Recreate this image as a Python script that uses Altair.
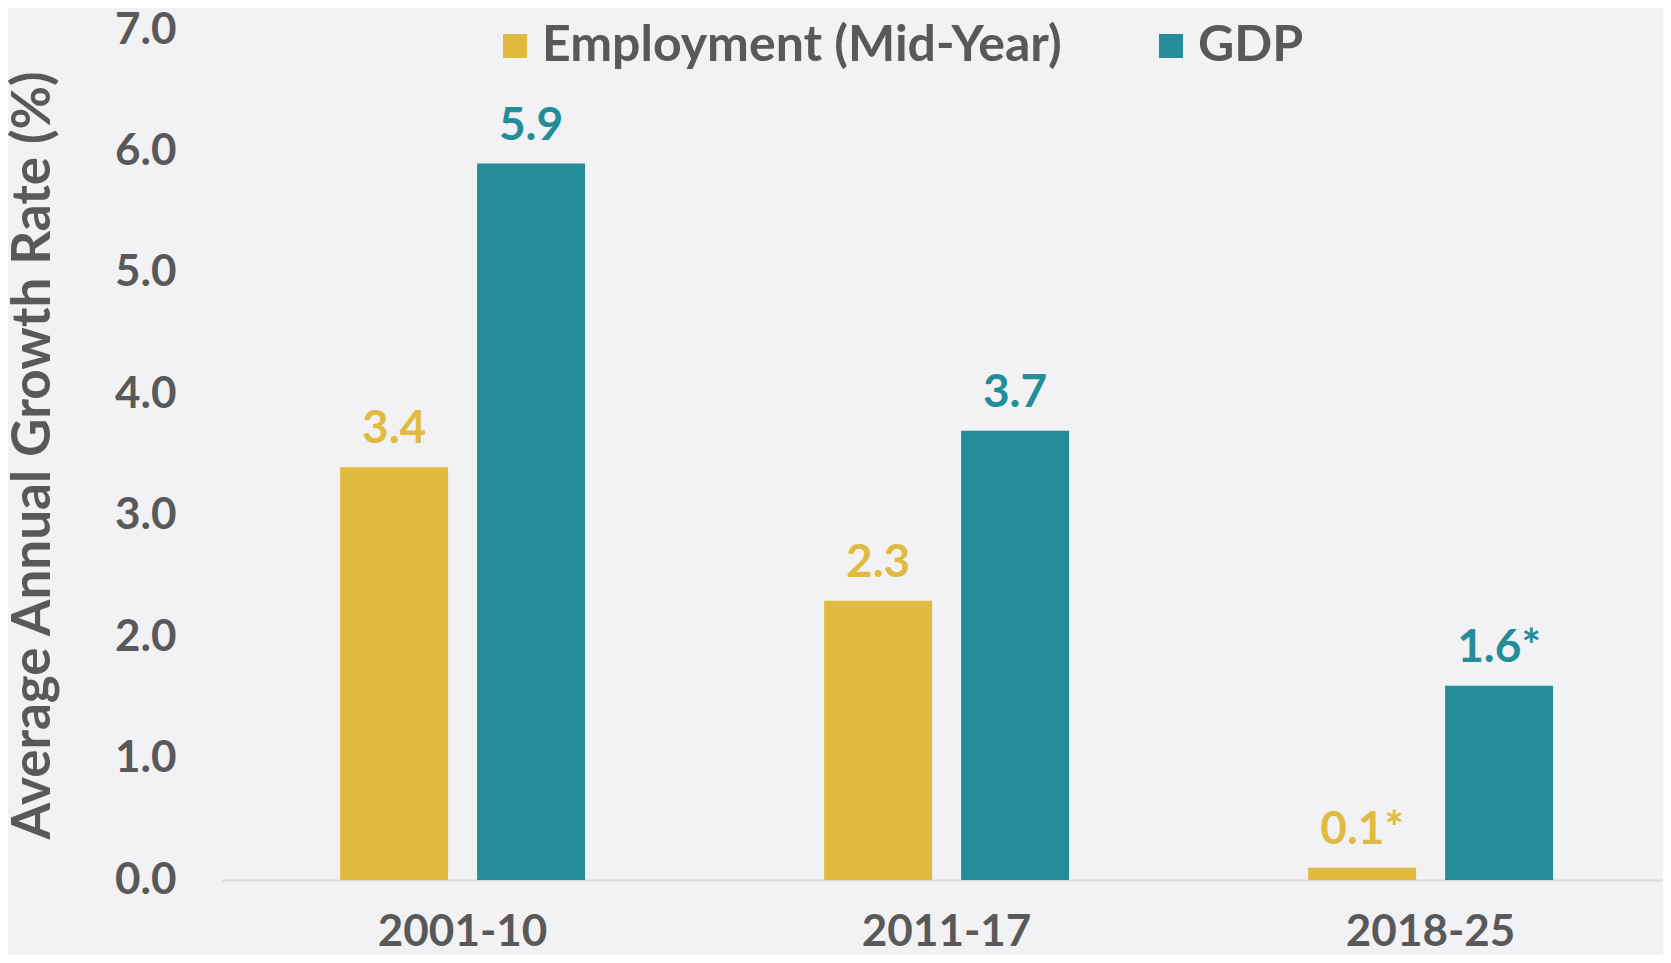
import altair as alt
import pandas as pd

periods = ["2001-10", "2011-17", "2018-25"]
series = ["Employment (Mid-Year)", "GDP"]
employment = [3.4, 2.3, 0.1]
gdp = [5.9, 3.7, 1.6]
employment_labels = ["3.4", "2.3", "0.1*"]
gdp_labels = ["5.9", "3.7", "1.6*"]
y_ticks = [0, 1, 2, 3, 4, 5, 6, 7]
colors = ["#E1BA41", "#258C9A"]

rows = []
for p, v, l in zip(periods, employment, employment_labels):
    rows.append({"period": p, "series": series[0], "value": v, "label": l})
for p, v, l in zip(periods, gdp, gdp_labels):
    rows.append({"period": p, "series": series[1], "value": v, "label": l})
df = pd.DataFrame(rows)

FONT = "Lato"
GREY = "#595959"

x = alt.X("period:N", sort=periods, title=None,
          scale=alt.Scale(paddingInner=0.494, paddingOuter=0.2356, align=0.518),
          axis=alt.Axis(labelAngle=0, labelFont=FONT, labelFontSize=44, labelFontWeight="bold",
                        labelColor=GREY, ticks=False, domain=True, domainColor="#D9D9D9",
                        domainWidth=2, labelPadding=30, labelLimit=600))
xo = alt.XOffset("series:N", sort=series,
                 scale=alt.Scale(paddingInner=0.2117, paddingOuter=0))
y = alt.Y("value:Q", title="Average Annual Growth Rate (%)",
          scale=alt.Scale(domain=[0, 7], nice=False),
          axis=alt.Axis(values=y_ticks, format=".1f", grid=False, ticks=False, domain=False,
                        labelFont=FONT, labelFontSize=44, labelFontWeight="bold", labelColor=GREY,
                        labelPadding=46, titleFont=FONT, titleFontSize=53, titleFontWeight="bold",
                        titleColor=GREY, titlePadding=54, titleLimit=1200))
color = alt.Color("series:N", sort=series,
                  scale=alt.Scale(domain=series, range=colors),
                  legend=alt.Legend(title=None, orient="none", legendX=268, legendY=-9,
                                    direction="horizontal", symbolType="square", symbolSize=576,
                                    symbolStrokeWidth=0, labelFont=FONT, labelFontSize=50,
                                    labelFontWeight="bold", labelColor=GREY, labelOffset=2,
                                    labelLimit=1000, columnPadding=84, padding=0))

bars = alt.Chart(df).mark_bar(opacity=1).encode(x=x, xOffset=xo, y=y, color=color)
text = alt.Chart(df).mark_text(font=FONT, fontSize=46, fontWeight="bold", baseline="alphabetic",
                               dy=-24).encode(
    x=x, xOffset=xo, y=y, text="label:N",
    color=alt.Color("series:N", sort=series, scale=alt.Scale(domain=series, range=colors), legend=None))

chart = (bars + text).properties(
    width=1441, height=850,
    autosize=alt.AutoSizeParams(type="none"),
    padding={"left": 214, "top": 22, "right": 0, "bottom": 75},
    background="#F2F2F4",
).configure_view(stroke=None)

chart.save("out.html", embed_options={"renderer": "svg", "actions": False})
